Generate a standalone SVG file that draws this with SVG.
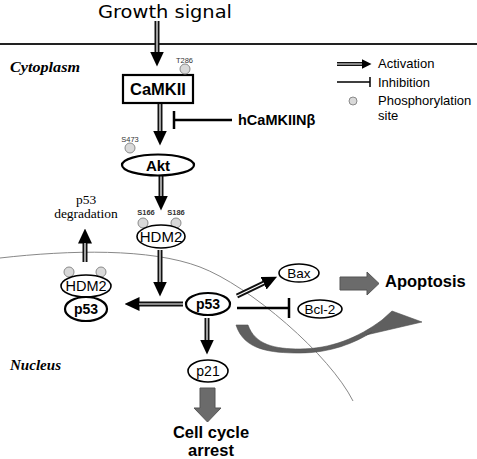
<svg xmlns="http://www.w3.org/2000/svg" width="477" height="459" viewBox="0 0 477 459">
<style>
text{font-family:"Liberation Sans",Arial,sans-serif;fill:#000}
.b{font-weight:bold}
.node{fill:#fff;stroke:#000;stroke-width:1.6}
.thick{stroke-width:2.2}
.ph{fill:#d9d9d9;stroke:#8a8a8a;stroke-width:1}
.sh{stroke:#111;stroke-width:5;fill:none}
.shi{stroke:#fff;stroke-width:1.2;fill:none}
.inh{stroke:#000;stroke-width:2.5;fill:none}
.site{font-size:7.5px;fill:#333}
.script{font-family:"Liberation Serif",serif;font-style:italic;font-weight:bold;font-size:15px}
.serif{font-family:"Liberation Serif","Times New Roman",serif;font-size:13.5px}
.big{fill:#6b6b6b;stroke:#555;stroke-width:1}
.leg{font-size:13px}
</style>
<defs>
<marker id="ah" markerUnits="userSpaceOnUse" markerWidth="15" markerHeight="14" viewBox="0 0 15 14" refX="0.5" refY="7" orient="auto">
<path d="M0,0 L15,7 L0,14 Z" fill="#000"/>
</marker>
<marker id="ahs" markerUnits="userSpaceOnUse" markerWidth="10" markerHeight="10" viewBox="0 0 10 10" refX="0.5" refY="5" orient="auto">
<path d="M0,0 L10,5 L0,10 Z" fill="#000"/>
</marker>
</defs>

<g id="compartments">
<line x1="0" y1="44" x2="477" y2="44" stroke="#222" stroke-width="2"/>
<path d="M0,258 C70,250 150,248 200,267 C250,286 330,355 353,401" fill="none" stroke="#888" stroke-width="1"/>
<text class="script" x="10" y="72" textLength="70" lengthAdjust="spacingAndGlyphs">Cytoplasm</text>
<text class="script" x="10" y="370" textLength="51" lengthAdjust="spacingAndGlyphs">Nucleus</text>
</g>

<g id="growth-signal">
<text x="165" y="17.5" font-size="18.5" text-anchor="middle" textLength="134" lengthAdjust="spacingAndGlyphs" style="font-family:'DejaVu Sans',sans-serif">Growth signal</text>
</g>

<g id="connectors">
<path class="sh" d="M157,21 V52" marker-end="url(#ah)"/><path class="shi" d="M157,21 V52"/>
<path class="sh" d="M160,104 V131" marker-end="url(#ah)"/><path class="shi" d="M160,104 V131"/>
<path class="sh" d="M161,176 V196" marker-end="url(#ah)"/><path class="shi" d="M161,176 V196"/>
<path class="sh" d="M160,250 V282" marker-end="url(#ah)"/><path class="shi" d="M160,250 V282"/>
<path class="sh" d="M183,304 H139" marker-end="url(#ah)"/><path class="shi" d="M183,304 H139"/>
<path class="sh" d="M85,262 V243" marker-end="url(#ah)"/><path class="shi" d="M85,262 V243"/>
<path class="sh" d="M207,318 V340" marker-end="url(#ah)"/><path class="shi" d="M207,318 V340"/>
<path class="sh" d="M237,296 L264,283" marker-end="url(#ah)"/><path class="shi" d="M237,296 L264,283"/>
<path class="inh" d="M232,120 H174 M174,111 V129"/>
<path class="inh" d="M237,308 H289 M289,298 V318"/>
<polygon class="big" points="340,277 367,277 367,272 379,283.5 367,295 367,290 340,290"/>
<path d="M236,325 C244,350 270,353 300,353 C330,353 355,343 372,332 L366,335 L422,322 L392,311 L382,320 C358,338 330,349 300,349 C275,349 255,345 248,325 Z" fill="#5f5f5f" stroke="#505050" stroke-width="0.6"/>
<polygon class="big" points="200,388 215,388 215,408 221,408 207.5,422 194,408 200,408"/>
</g>

<g id="CaMKII">
<rect class="node thick" x="123" y="75" width="70" height="28"/>
<text class="b" x="158" y="95" font-size="16.5" text-anchor="middle">CaMKII</text>
<circle class="ph" cx="185" cy="69" r="5"/>
<text class="site" x="184.5" y="63" text-anchor="middle">T286</text>
</g>

<g id="hCaMKIINb">
<text class="b" x="238" y="125" font-size="14.5">hCaMKIINβ</text>
</g>

<g id="Akt">
<ellipse class="node thick" cx="158" cy="165" rx="36" ry="10.5"/>
<text class="b" x="158" y="170.5" font-size="15" text-anchor="middle">Akt</text>
<circle class="ph" cx="130" cy="148" r="5"/>
<text class="site" x="130" y="142" text-anchor="middle">S473</text>
</g>

<g id="HDM2">
<circle class="ph" cx="143" cy="223" r="5"/>
<circle class="ph" cx="176" cy="223" r="5"/>
<ellipse class="node" cx="161" cy="236.5" rx="24" ry="11.5"/>
<text x="161" y="242" font-size="15" text-anchor="middle">HDM2</text>
<text class="site b" x="146" y="215" text-anchor="middle">S166</text>
<text class="site b" x="176" y="215" text-anchor="middle">S186</text>
</g>

<g id="p53-degradation">
<text class="serif" x="86" y="204" text-anchor="middle">p53</text>
<text class="serif" x="86" y="218" text-anchor="middle">degradation</text>
</g>

<g id="HDM2-p53-complex">
<circle class="ph" cx="69" cy="272" r="5"/>
<circle class="ph" cx="101" cy="272" r="5"/>
<ellipse class="node" cx="86" cy="286" rx="25" ry="11"/>
<ellipse class="node thick" cx="86" cy="309" rx="21" ry="12"/>
<text x="86" y="291" font-size="14.5" text-anchor="middle">HDM2</text>
<text class="b" x="86" y="314" font-size="14" text-anchor="middle">p53</text>
</g>

<g id="p53">
<ellipse class="node thick" cx="208" cy="304" rx="22" ry="11"/>
<text class="b" x="208" y="309" font-size="14" text-anchor="middle">p53</text>
</g>

<g id="Bax">
<ellipse class="node" cx="299" cy="273" rx="20" ry="9"/>
<text x="299" y="277.5" font-size="13.5" text-anchor="middle">Bax</text>
</g>

<g id="Bcl-2">
<ellipse class="node" cx="320" cy="309" rx="22" ry="9"/>
<text x="320" y="313.5" font-size="13.5" text-anchor="middle">Bcl-2</text>
</g>

<g id="Apoptosis">
<text class="b" x="385" y="287" font-size="16.5">Apoptosis</text>
</g>

<g id="p21">
<ellipse class="node" cx="208" cy="371" rx="20" ry="11"/>
<text x="208" y="376" font-size="14" text-anchor="middle">p21</text>
</g>

<g id="cell-cycle-arrest">
<text class="b" x="211" y="438" font-size="16.5" text-anchor="middle">Cell cycle</text>
<text class="b" x="211" y="455.5" font-size="16.5" text-anchor="middle">arrest</text>
</g>

<g id="legend">
<path class="sh" d="M337,64 H362" style="stroke-width:4" marker-end="url(#ahs)"/><path class="shi" d="M337,64 H362" style="stroke-width:1"/>
<text class="leg" x="378" y="68">Activation</text>
<path d="M337,82 H370 M370,77 V87" stroke="#000" stroke-width="1.5" fill="none"/>
<text class="leg" x="378" y="87">Inhibition</text>
<circle class="ph" cx="353" cy="101" r="4"/>
<text class="leg" x="378" y="105">Phosphorylation</text>
<text class="leg" x="378" y="120">site</text>
</g>
</svg>
